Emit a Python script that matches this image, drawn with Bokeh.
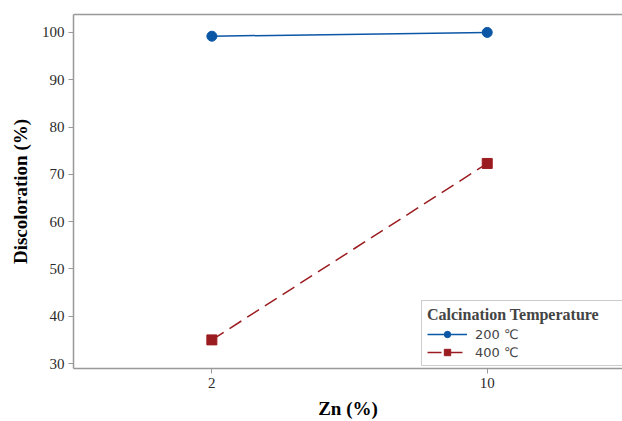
from bokeh.plotting import figure
from bokeh.models import LinearAxis, FixedTicker, Range1d, Legend, LegendItem
from bokeh.embed import file_html
from bokeh.resources import INLINE

# ---- data ----
zn = [2, 10]
temp200 = [99.2, 100.0]
temp400 = [35.0, 72.3]
x_ticks = [2, 10]
y_ticks = [30, 40, 50, 60, 70, 80, 90, 100]
series_labels = ["200 ℃", "400 ℃"]
legend_title = "Calcination Temperature"

BLUE = "#0b57a6"
RED = "#9b1c20"
GRAY = "#999999"

p = figure(width=622, height=421, output_backend="svg", toolbar_location=None,
           x_range=Range1d(-2.02, 13.93), y_range=Range1d(28.95, 103.79),
           min_border_left=73, min_border_top=14, min_border_right=0, min_border_bottom=52,
           background_fill_color="white", border_fill_color="white")
p.grid.visible = False
p.outline_line_color = None

# x axis
xa = p.xaxis[0]
xa.ticker = FixedTicker(ticks=x_ticks)
xa.axis_label = "Zn (%)"
# y axis
ya = p.yaxis[0]
ya.ticker = FixedTicker(ticks=y_ticks)
ya.axis_label = "Discoloration (%)"
for ax in (xa, ya):
    ax.axis_line_color = GRAY
    ax.axis_line_width = 1.5
    ax.major_tick_line_color = GRAY
    ax.major_tick_out = 5
    ax.major_tick_in = 0
    ax.minor_tick_line_color = None
    ax.major_label_text_font = "Liberation Serif"
    ax.major_label_text_font_size = "15px"
    ax.major_label_text_color = "#2a2a2a"
    ax.major_label_standoff = 4
    ax.axis_label_text_font = "Liberation Serif"
    ax.axis_label_text_font_style = "bold"
    ax.axis_label_text_font_size = "19px"
    ax.axis_label_text_color = "black"
xa.axis_label_standoff = 7
ya.axis_label_standoff = 8

# top border as an empty axis
top = LinearAxis(ticker=FixedTicker(ticks=[]), axis_line_color=GRAY, axis_line_width=1.5,
                 major_tick_line_color=None, minor_tick_line_color=None,
                 major_label_text_font_size="0px", major_label_standoff=0,
                 major_tick_out=0, major_tick_in=0)
p.add_layout(top, "above")

l1 = p.line(zn, temp200, line_color=BLUE, line_width=1.5)
m1 = p.scatter(zn, temp200, marker="circle", size=10, fill_color=BLUE, line_color=BLUE)
l2 = p.line(zn, temp400, line_color=RED, line_width=1.5, line_dash="14 7")
m2 = p.scatter(zn, temp400, marker="square", size=10, fill_color=RED, line_color=RED)

legend = Legend(items=[LegendItem(label=series_labels[0], renderers=[l1, m1]),
                       LegendItem(label=series_labels[1], renderers=[l2, m2])],
                location=(348, 2), title=legend_title,
                border_line_color=GRAY, border_line_width=1.5,
                background_fill_color="white", background_fill_alpha=1.0,
                label_text_font="DejaVu Sans", label_text_font_size="13px",
                title_text_font="Liberation Serif", title_text_font_style="bold",
                title_text_font_size="16px",
                glyph_width=40, glyph_height=16, label_height=16, label_standoff=8,
                label_width=170,
                padding=5, spacing=2, margin=0, title_standoff=2)
p.add_layout(legend)

open("out.html", "w").write(file_html(p, INLINE))
